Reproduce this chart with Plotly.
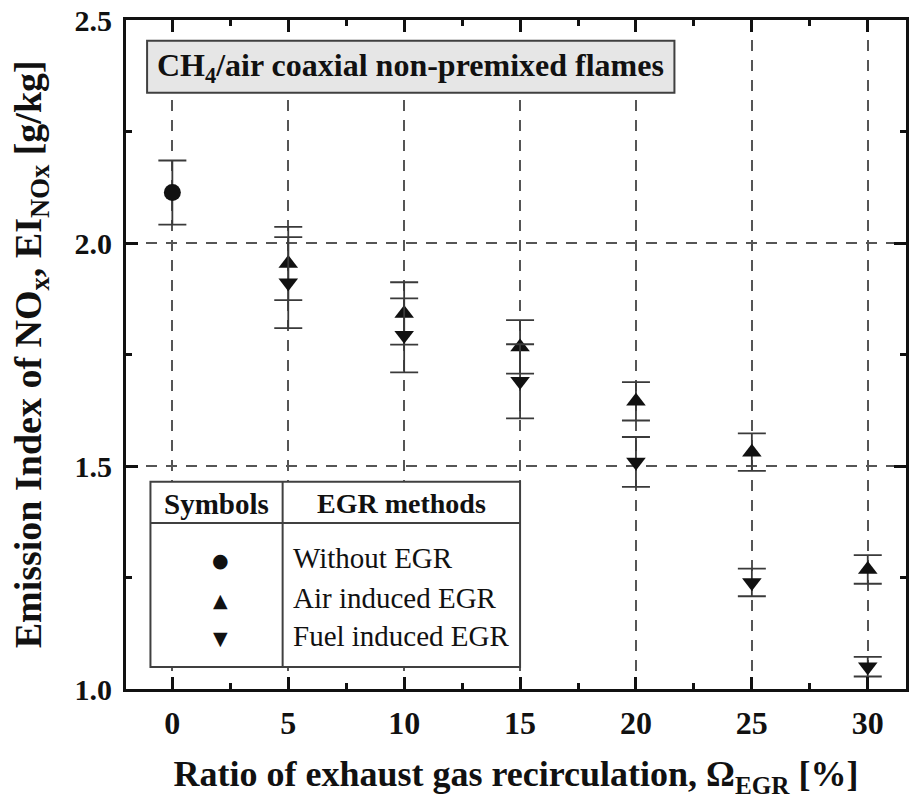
import plotly.graph_objects as go

# ---- data ----
x_without = [0]
y_without = [2.113]
e_without = [0.072]

x_air = [5, 10, 15, 20, 25, 30]
y_air = [1.954, 1.842, 1.767, 1.645, 1.531, 1.268]
e_air = [0.082, 0.070, 0.060, 0.043, 0.042, 0.032]

x_fuel = [5, 10, 15, 20, 25, 30]
y_fuel = [1.911, 1.793, 1.690, 1.509, 1.239, 1.050]
e_fuel = [0.102, 0.083, 0.083, 0.056, 0.031, 0.022]

x_ticks = [0, 5, 10, 15, 20, 25, 30]
y_ticks = [1.0, 1.5, 2.0, 2.5]

legend_symbols = ["●", "▲", "▼"]
legend_labels = ["Without EGR", "Air induced EGR", "Fuel induced EGR"]

SERIF = "Liberation Serif"
INK = "#111111"
ERR = "#3a3a3a"

fig = go.Figure()

def add_series(xs, ys, es, symbol, size):
    fig.add_trace(go.Scatter(
        x=xs, y=ys, mode="markers",
        marker=dict(symbol=symbol, size=size, color=INK, line=dict(width=0)),
        error_y=dict(type="data", array=es, visible=True, color=ERR,
                     thickness=1.8, width=14),
        showlegend=False, hoverinfo="skip"))

add_series(x_without, y_without, e_without, "circle", 17)
add_series(x_air, y_air, e_air, "triangle-up", 17)
add_series(x_fuel, y_fuel, e_fuel, "triangle-down", 17)

# ---- title box ----
fig.add_shape(type="rect", xref="x", yref="y", x0=-1.09, x1=21.66, y0=2.337, y1=2.4536,
              fillcolor="#e6e6e6", line=dict(color="#404040", width=2), layer="above")
fig.add_annotation(xref="x", yref="y", x=10.28, y=2.393,
                   text="CH<sub>4</sub>/air coaxial non-premixed flames", showarrow=False,
                   font=dict(family=SERIF, size=32, color=INK, weight="bold"))

# ---- legend table ----
tx0, tx1, txd = -0.945, 15.0, 4.757
ty0, ty1, tyh = 1.0493, 1.4648, 1.3722
fig.add_shape(type="rect", xref="x", yref="y", x0=tx0, x1=tx1, y0=ty0, y1=ty1,
              fillcolor="white", line=dict(color="#404040", width=2), layer="above")
fig.add_shape(type="line", xref="x", yref="y", x0=tx0, x1=tx1, y0=tyh, y1=tyh,
              line=dict(color="#404040", width=2), layer="above")
fig.add_shape(type="line", xref="x", yref="y", x0=txd, x1=txd, y0=ty0, y1=ty1,
              line=dict(color="#404040", width=2), layer="above")
fig.add_annotation(xref="x", yref="y", x=(tx0 + txd) / 2, y=1.4156, text="Symbols",
                   showarrow=False, font=dict(family=SERIF, size=29, color=INK, weight="bold"))
fig.add_annotation(xref="x", yref="y", x=(txd + tx1) / 2, y=1.4156, text="EGR methods",
                   showarrow=False, font=dict(family=SERIF, size=28, color=INK, weight="bold"))
row_y = [1.2892, 1.1996, 1.1143]
for sym, lab, ry in zip(legend_symbols, legend_labels, row_y):
    fig.add_annotation(xref="x", yref="y", x=2.09, y=ry, text=sym, showarrow=False,
                       font=dict(family="DejaVu Sans", size=19, color=INK))
    fig.add_annotation(xref="x", yref="y", x=5.12, y=ry + 0.004, text=lab, showarrow=False,
                       xanchor="left", font=dict(family=SERIF, size=29, color=INK))

# ---- y-axis title (placed as rotated annotation) ----
fig.add_annotation(xref="paper", yref="paper", x=-0.122, y=0.5, textangle=-90,
                   xanchor="center", yanchor="middle", showarrow=False,
                   text="Emission Index of NO<sub>x</sub>, EI<sub>NOx</sub> [g/kg]",
                   font=dict(family=SERIF, size=38, color=INK, weight="bold"))

axis_common = dict(
    showline=True, linecolor=INK, linewidth=3, mirror="ticks",
    ticks="inside", ticklen=12, tickwidth=2.5, tickcolor=INK,
    showgrid=True, gridcolor="#555555", gridwidth=1.5, griddash="11px,9px",
    zeroline=False,
)

fig.update_xaxes(
    range=[-2, 31.65], tickmode="array", tickvals=x_ticks,
    ticktext=[str(v) for v in x_ticks],
    tickfont=dict(family=SERIF, size=32, color=INK, weight="bold"),
    ticklabelstandoff=4,
    minor=dict(ticks="inside", ticklen=6, tickwidth=2.5, tickcolor=INK,
               dtick=2.5, tick0=0, showgrid=False),
    title=dict(text="Ratio of exhaust gas recirculation, Ω<sub>EGR</sub> [%]",
               font=dict(family=SERIF, size=36, color=INK, weight="bold"), standoff=21),
    **axis_common)
fig.update_yaxes(
    range=[1.0, 2.5], tickmode="array", tickvals=y_ticks,
    ticktext=[f"{v:.1f}" for v in y_ticks],
    tickfont=dict(family=SERIF, size=30, color=INK, weight="bold"),
    ticklabelstandoff=5,
    minor=dict(ticks="inside", ticklen=6, tickwidth=2.5, tickcolor=INK,
               dtick=0.25, tick0=1.0, showgrid=False),
    **axis_common)

fig.update_layout(
    width=909, height=800,
    margin=dict(l=126, r=0, t=20, b=111),
    paper_bgcolor="white", plot_bgcolor="white",
    showlegend=False,
)

fig.write_html("out.html")
